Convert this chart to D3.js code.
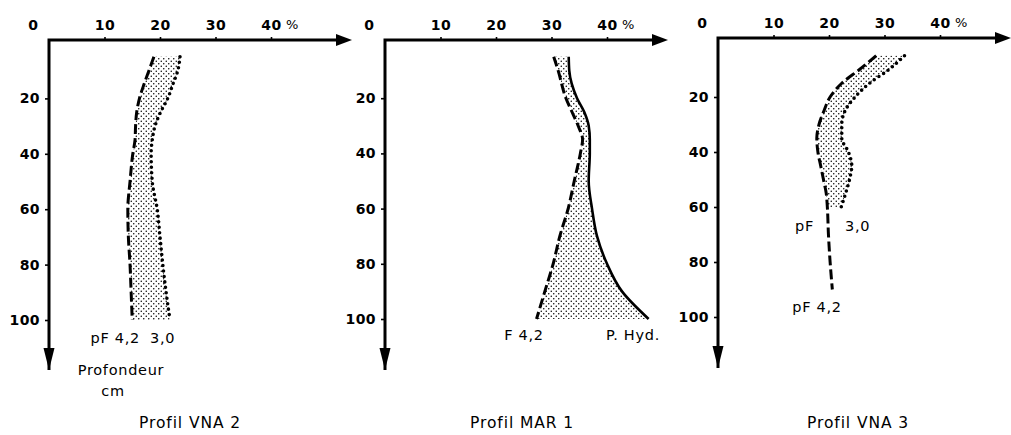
<!DOCTYPE html>
<html>
<head>
<meta charset="utf-8">
<script src="https://cdn.jsdelivr.net/npm/d3@7"></script>
<style>
  body { margin: 0; background: #fff; }
  svg { display: block; }
  .tick text { font-family: "DejaVu Sans", sans-serif; font-weight: bold; font-size: 14px; letter-spacing: 0.4px; fill: #000; }
  .tick line { stroke: #000; stroke-width: 1.6; }
  .lbl { font-family: "DejaVu Sans", sans-serif; font-size: 14.5px; letter-spacing: 0.7px; fill: #000; }
  .title { font-family: "DejaVu Sans", sans-serif; font-size: 15.5px; letter-spacing: 0.9px; fill: #000; }
</style>
</head>
<body>
<div id="chart"></div>
<script>
// ---- data (moisture %, depth cm) ----
var xTicks = [10, 20, 30, 40];
var yTicks = [20, 40, 60, 80, 100];

// Profil VNA 2
var vna2Depth = [5, 10, 15, 20, 25, 30, 35, 40, 50, 60, 70, 80, 90, 100];
var vna2Pf42  = [18.9, 18.0, 17.1, 16.3, 15.8, 15.6, 15.5, 15.1, 14.6, 14.2, 14.3, 14.6, 14.8, 15.0];
var vna2Pf30  = [23.6, 23.2, 22.3, 21.4, 20.1, 19.1, 18.6, 18.4, 18.6, 19.5, 20.0, 20.5, 21.1, 21.8];

// Profil MAR 1
var mar1Depth = [5, 10, 20, 25, 30, 35, 40, 50, 60, 70, 80, 90, 100];
var mar1F42   = [30.4, 31.2, 32.6, 33.7, 34.8, 35.6, 35.2, 34.1, 33.0, 31.5, 30.3, 28.8, 27.3];
var mar1PHyd  = [33.1, 33.2, 34.6, 35.9, 36.7, 36.9, 36.9, 36.7, 37.3, 38.2, 40.0, 42.7, 47.5];

// Profil VNA 3
var vna3Depth = [5, 10, 15, 20, 25, 30, 35, 40, 45, 50, 55, 60, 70, 80, 90];
var vna3Pf42  = [28.5, 25.5, 22.3, 20.2, 19.1, 18.2, 17.8, 18.0, 18.5, 19.0, 19.5, 19.7, 19.9, 20.2, 20.6];
var vna3Pf30  = [33.6, 30.8, 27.3, 24.7, 22.9, 22.3, 22.3, 23.5, 24.1, 23.7, 23.0, 22.2];

var panels = [
  { title: "Profil  VNA 2", x0: 49, axisY: 40, y0: 43, y100: 320, xEnd: 352, yEnd: 370, titleX: 190,
    depth: vna2Depth, low: vna2Pf42, high: vna2Pf30, highStyle: "dotted",
    labels: [
      { t: "pF 4,2", x: 140, y: 343, a: "end" },
      { t: "3,0", x: 150, y: 343, a: "start" },
      { t: "Profondeur", x: 121, y: 375, a: "middle" },
      { t: "cm", x: 113, y: 396, a: "middle" }
    ] },
  { title: "Profil  MAR 1", x0: 385, axisY: 40, y0: 43, y100: 319, xEnd: 668, yEnd: 370, titleX: 522,
    depth: mar1Depth, low: mar1F42, high: mar1PHyd, highStyle: "solid",
    labels: [
      { t: "F  4,2", x: 524, y: 340, a: "middle" },
      { t: "P. Hyd.", x: 633, y: 340, a: "middle" }
    ] },
  { title: "Profil  VNA 3", x0: 718, axisY: 38, y0: 42, y100: 317, xEnd: 1011, yEnd: 368, titleX: 858,
    depth: vna3Depth, low: vna3Pf42, high: vna3Pf30, highStyle: "dotted",
    labels: [
      { t: "pF", x: 814, y: 231, a: "end" },
      { t: "3,0", x: 845, y: 231, a: "start" },
      { t: "pF  4,2", x: 817, y: 312, a: "middle" }
    ] }
];

var svg = d3.select("#chart").append("svg")
  .attr("width", 1011).attr("height", 435);

// stipple pattern
var defs = svg.append("defs");
var pat = defs.append("pattern").attr("id", "stip")
  .attr("width", 5).attr("height", 5).attr("patternUnits", "userSpaceOnUse");
pat.append("circle").attr("cx", 1.25).attr("cy", 1.25).attr("r", 0.75).attr("fill", "#000");
pat.append("circle").attr("cx", 3.75).attr("cy", 3.75).attr("r", 0.75).attr("fill", "#000");

panels.forEach(function (p) {
  var g = svg.append("g");
  var x = d3.scaleLinear().domain([0, 40]).range([p.x0, p.x0 + 222]);
  var y = d3.scaleLinear().domain([0, 100]).range([p.y0, p.y100]);

  // x axis (top)
  var xa = g.append("g").attr("transform", "translate(0," + p.axisY + ")")
    .call(d3.axisTop(x).tickValues(xTicks).tickSize(3).tickPadding(7));
  xa.select(".domain").remove();
  g.append("text").attr("x", p.x0 - 16).attr("y", p.axisY - 10)
    .attr("text-anchor", "middle")
    .style("font-family", "DejaVu Sans, sans-serif").style("font-weight", "bold").style("font-size", "14px")
    .text("0");
  g.append("text").attr("class", "lbl").attr("x", x(40) + 15).attr("y", p.axisY - 11)
    .attr("text-anchor", "start").style("font-size", "13px").text("%");

  // y axis (left)
  var ya = g.append("g").attr("transform", "translate(" + p.x0 + ",0)")
    .call(d3.axisLeft(y).tickValues(yTicks).tickSize(4).tickPadding(5));
  ya.select(".domain").remove();

  // axis lines + arrows
  g.append("path").attr("fill", "none").attr("stroke", "#000").attr("stroke-width", 3)
    .attr("d", "M" + p.x0 + "," + p.yEnd + "V" + p.axisY + "H" + (p.xEnd - 14));
  g.append("path").attr("fill", "#000")
    .attr("d", "M" + p.xEnd + "," + p.axisY + "L" + (p.xEnd - 16) + "," + (p.axisY - 6) +
               "L" + (p.xEnd - 16) + "," + (p.axisY + 6) + "Z");
  g.append("path").attr("fill", "#000")
    .attr("d", "M" + p.x0 + "," + p.yEnd + "L" + (p.x0 - 5.5) + "," + (p.yEnd - 22) +
               "L" + (p.x0 + 5.5) + "," + (p.yEnd - 22) + "Z");

  // shaded band between the two curves
  var n = p.high.length;
  var band = p.depth.slice(0, n).map(function (d, i) { return [d, p.low[i], p.high[i]]; });
  var area = d3.area().curve(d3.curveMonotoneY)
    .y(function (d) { return y(d[0]); })
    .x0(function (d) { return x(d[1]); })
    .x1(function (d) { return x(d[2]); });
  g.append("path").datum(band).attr("fill", "url(#stip)").attr("d", area);

  var line = d3.line().curve(d3.curveMonotoneY)
    .y(function (d) { return y(d[0]); })
    .x(function (d) { return x(d[1]); });

  // dashed curve (pF 4,2)
  g.append("path").datum(p.depth.map(function (d, i) { return [d, p.low[i]]; }))
    .attr("fill", "none").attr("stroke", "#000").attr("stroke-width", 3)
    .attr("stroke-dasharray", "10,4").attr("d", line);

  // upper curve
  var hi = g.append("path").datum(band.map(function (d) { return [d[0], d[2]]; }))
    .attr("fill", "none").attr("stroke", "#000").attr("d", line);
  if (p.highStyle === "dotted") {
    hi.attr("stroke-width", 3.6).attr("stroke-linecap", "round").attr("stroke-dasharray", "0,5.5");
  } else {
    hi.attr("stroke-width", 2.6);
  }

  p.labels.forEach(function (l) {
    g.append("text").attr("class", "lbl").attr("x", l.x).attr("y", l.y)
      .attr("text-anchor", l.a).text(l.t);
  });

  g.append("text").attr("class", "title").attr("x", p.titleX).attr("y", 428)
    .attr("text-anchor", "middle").text(p.title);
});
</script>
</body>
</html>
